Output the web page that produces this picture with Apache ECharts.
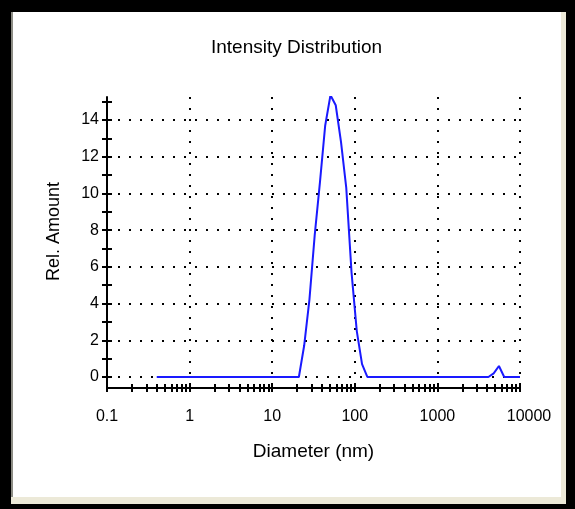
<!DOCTYPE html>
<html lang="en">
<head>
<meta charset="UTF-8">
<title>Intensity Distribution</title>
<script src="https://cdn.jsdelivr.net/npm/echarts@6/dist/echarts.min.js"></script>
<style>
    body { margin: 0; background: #000; }
    /* window frame around the plot */
    #panel { position: absolute; left: 11px; top: 12px; width: 550px; height: 485px; background: #fff; border-left: 2px solid #8c8c84; box-sizing: border-box; }
    #side { position: absolute; left: 561px; top: 12px; width: 5px; height: 492px; background: #ece9d8; }
    #foot { position: absolute; left: 11px; top: 497px; width: 555px; height: 7px; background: #ece9d8; }
    #main { position: absolute; left: 0; top: 0; width: 575px; height: 509px; }
</style>
</head>
<body>
<div id="panel"></div>
<div id="side"></div>
<div id="foot"></div>
<div id="main"></div>
<script>
    // size classes (nm)
    const diameters = [0.4, 0.4632, 0.5365, 0.6213, 0.7195, 0.8332, 0.9649, 1.117, 1.294, 1.499,
        1.736, 2.01, 2.328, 2.696, 3.122, 3.615, 4.187, 4.849, 5.615, 6.503,
        7.531, 8.721, 10.1, 11.7, 13.54, 15.69, 18.17, 21.04, 24.36, 28.21,
        32.67, 37.84, 43.82, 50.75, 58.77, 68.06, 78.82, 91.28, 105.7, 122.4,
        141.8, 164.2, 190.1, 220.2, 255, 295.3, 342, 396.1, 458.7, 531.2,
        615.1, 712.4, 825, 955.4, 1106, 1281, 1484, 1718, 1990, 2305,
        2669, 3091, 3580, 4145, 4801, 5560, 6439, 7456, 8635, 10000];
    // relative amount per class
    const intensity = [0, 0, 0, 0, 0, 0, 0, 0, 0, 0,
        0, 0, 0, 0, 0, 0, 0, 0, 0, 0,
        0, 0, 0, 0, 0, 0, 0, 0, 1.7, 4.2,
        7.7, 10.6, 13.7, 15.35, 14.8, 12.8, 10.3, 5.7, 2.5, 0.7,
        0, 0, 0, 0, 0, 0, 0, 0, 0, 0,
        0, 0, 0, 0, 0, 0, 0, 0, 0, 0,
        0, 0, 0, 0, 0.2, 0.6, 0, 0, 0, 0];

    const xTickValues = [0.1, 0.2, 0.3, 0.4, 0.5, 0.6, 0.7, 0.8, 0.9,
        1, 2, 3, 4, 5, 6, 7, 8, 9,
        10, 20, 30, 40, 50, 60, 70, 80, 90,
        100, 200, 300, 400, 500, 600, 700, 800, 900,
        1000, 2000, 3000, 4000, 5000, 6000, 7000, 8000, 9000, 10000];
    const xLabels = ['0.1', '1', '10', '100', '1000', '10000'];
    const yTickValues = [0, 1, 2, 3, 4, 5, 6, 7, 8, 9, 10, 11, 12, 13, 14, 15];

    const font = 'Liberation Sans, Arial, sans-serif';
    const dotted = { color: '#000', width: 2, type: [2, 9] };
    const tickStyle = { color: '#000', width: 2 };
    const xRange = { type: 'log', logBase: 10, min: 0.1, max: 10000 };
    const yRange = { type: 'value', min: -0.6, max: 15.25 };

    // extra axes that only carry tick marks (outside half and inside half)
    function tickAxis(range, values, len, inside, pos) {
        return Object.assign({}, range, {
            position: pos,
            axisLine: { show: false, onZero: false },
            axisTick: { show: true, inside: inside, customValues: values, length: len, lineStyle: tickStyle },
            axisLabel: { show: false },
            splitLine: { show: false }
        });
    }

    var myChart = echarts.init(document.getElementById('main'));

    var option = {
        animation: false,
        backgroundColor: 'transparent',
        title: {
            text: 'Intensity Distribution',
            left: 206,
            top: 33,
            textStyle: { fontFamily: font, fontSize: 19, fontWeight: 'normal', color: '#000' }
        },
        grid: { left: 107, right: 55, top: 97, bottom: 121 },
        xAxis: [
            Object.assign({}, xRange, {
                position: 'bottom',
                axisLine: { show: true, onZero: false, lineStyle: tickStyle },
                axisTick: { show: false },
                axisLabel: {
                    margin: 21, color: '#000', fontFamily: font, fontSize: 16,
                    formatter: function (v) {
                        var s = xLabels.find(function (l) { return Math.abs(parseFloat(l) - v) < 1e-6 * v; }) || String(v);
                        return s === '10000' ? '{r|' + s + '}' : s;
                    },
                    rich: { r: { padding: [0, 0, 0, 18], fontFamily: font, fontSize: 16, color: '#000' } }
                },
                splitLine: { show: true, showMinLine: false, showMaxLine: true, lineStyle: dotted },
                name: 'Diameter (nm)', nameLocation: 'middle', nameGap: 54,
                nameTextStyle: { fontFamily: font, fontSize: 19, color: '#000' }
            }),
            tickAxis(xRange, xTickValues, 4, false, 'bottom'),
            tickAxis(xRange, xTickValues, 4, true, 'bottom')
        ],
        yAxis: [
            Object.assign({}, yRange, {
                position: 'left',
                minInterval: 2, maxInterval: 2, splitNumber: 8,
                axisLine: { show: true, onZero: false, lineStyle: tickStyle },
                axisTick: { show: false },
                axisLabel: { showMinLabel: false, showMaxLabel: false, margin: 8, color: '#000', fontFamily: font, fontSize: 16 },
                splitLine: { show: true, showMinLine: false, showMaxLine: false, lineStyle: dotted },
                name: 'Rel. Amount', nameLocation: 'middle', nameGap: 44,
                nameTextStyle: { fontFamily: font, fontSize: 18, color: '#000', padding: [0, 0, 0, 22] }
            }),
            tickAxis(yRange, yTickValues, 5, false, 'left'),
            tickAxis(yRange, yTickValues, 5, true, 'left')
        ],
        series: [
            {
                name: 'Intensity',
                type: 'line',
                data: diameters.map(function (d, i) { return [d, intensity[i]]; }),
                symbol: 'none',
                lineStyle: { color: '#1a1aff', width: 2 }
            }
        ]
    };

    myChart.setOption(option);
</script>
</body>
</html>
